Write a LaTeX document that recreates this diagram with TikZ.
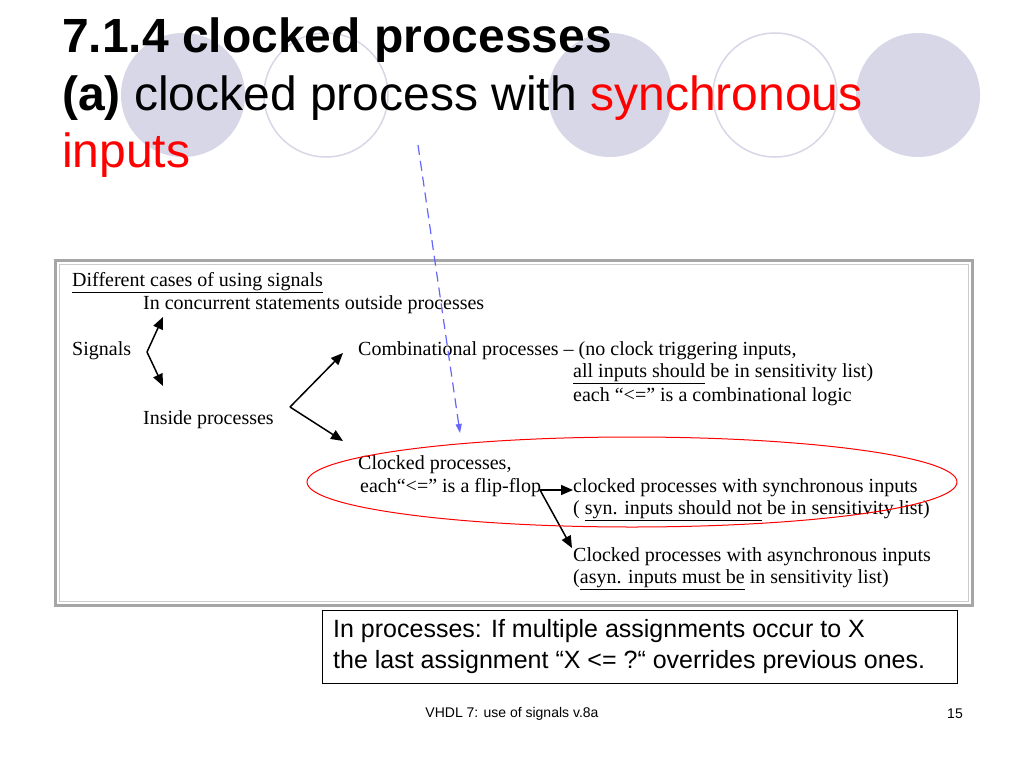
\documentclass[tikz,border=0pt]{standalone}
\usepackage{fontspec}
\setmainfont{Liberation Serif}
\newfontfamily\arialf{Liberation Sans}
\usetikzlibrary{arrows.meta}
\definecolor{circ}{RGB}{215,215,232}
\definecolor{redt}{RGB}{255,0,0}
\begin{document}
\begin{tikzpicture}[x=1pt,y=-1pt,
  tx/.style={anchor=west,inner sep=0pt,font=\fontsize{20}{22}\selectfont},
  arr/.style={line width=1.5pt,-{Triangle[length=12pt,width=10pt]}}]
\useasboundingbox (0,0) rectangle (1024,768);
\fill[white] (0,0) rectangle (1024,768);
% background circles
\fill[circ] (183,95) circle (62);
\draw[circ,line width=1.5pt] (326,95) circle (62);
\fill[circ] (610,95) circle (62);
\draw[circ,line width=1.5pt] (775,95) circle (62);
\fill[circ] (918,95) circle (62);
% title
\node[anchor=west,inner sep=0pt,font=\arialf\bfseries\fontsize{48}{52}\selectfont] (t1) at (62,40) {7.1.4 clocked processes};
\node[anchor=west,inner sep=0pt,font=\arialf\fontsize{48}{52}\selectfont] (t2) at (62,98) {\textbf{(a)} clocked process with \textcolor{redt}{synchronous}};
\node[anchor=west,inner sep=0pt,font=\arialf\fontsize{48}{52}\selectfont,text=redt] (t3) at (62,155) {inputs};
% box
\draw[gray!70,line width=3pt] (55,260) rectangle (972,605);
\draw[gray!40,line width=1pt] (59,264) rectangle (968,601);
\node[tx] (a1) at (72,283) {\underline{Different cases of using signals}};
\node[tx] (a2) at (143,305) {In concurrent statements outside processes};
\node[tx] (sig) at (72,351) {Signals};
\node[tx] (comb) at (358,351) {Combinational processes – (no clock triggering inputs,};
\node[tx] (c2) at (573,374) {\underline{all inputs should} be in sensitivity list)};
\node[tx] (c3) at (573,397) {each “<=” is a combinational logic};
\node[tx] (ins) at (143,420) {Inside processes};
\node[tx] (clk) at (358,465) {Clocked processes,};
\node[tx] (ff) at (360,488) {each“<=” is a flip-flop};
\node[tx] (s1) at (573,488) {clocked processes with synchronous inputs};
\node[tx] (s2) at (573,511) {( \underline{syn. inputs should not} be in sensitivity list)};
\node[tx] (as1) at (573,557) {Clocked processes with asynchronous inputs};
\node[tx] (as2) at (573,580) {(\underline{asyn. inputs must be} in sensitivity list)};
% arrows
\coordinate (p1) at (147,352);
\coordinate (p1a) at (163,317);
\coordinate (p1b) at (163,386);
\draw[arr] (p1) -- (p1a);
\draw[arr] (p1) -- (p1b);
\coordinate (p2) at (290,407);
\coordinate (p2a) at (343,353);
\coordinate (p2b) at (343,441);
\draw[arr] (p2) -- (p2a);
\draw[arr] (p2) -- (p2b);
\coordinate (p3) at (540,490);
\coordinate (p3a) at (573,490);
\coordinate (p3b) at (572,548);
\draw[arr] (p3) -- (p3a);
\draw[arr] (p3) -- (p3b);
% red ellipse
\draw[redt,line width=1pt] (632,482) ellipse (325 and 45);
% dashed blue arrow
\coordinate (d0) at (418,145);
\coordinate (d1) at (460,433);
\draw[blue!60,dash pattern=on 10pt off 6pt,line width=1.2pt,-{Triangle[length=9pt,width=6pt]}] (d0) -- (d1);
% bottom box
\node[draw,line width=0.8pt,anchor=north west,minimum width=635pt,minimum height=73pt,inner sep=0pt] (bb) at (322,610) {};
\node[anchor=west,inner sep=0pt,align=left,font=\arialf\fontsize{25}{31}\selectfont] (bt) at (333,647) {In processes: If multiple assignments occur to X\\the last assignment “X <= ?“ overrides previous ones.};
% footer
\node[font=\arialf\fontsize{14}{16}\selectfont] (f1) at (512,714) {VHDL 7: use of signals v.8a};
\node[font=\arialf\fontsize{14}{16}\selectfont] (f2) at (955,714) {15};
\end{tikzpicture}
\end{document}
